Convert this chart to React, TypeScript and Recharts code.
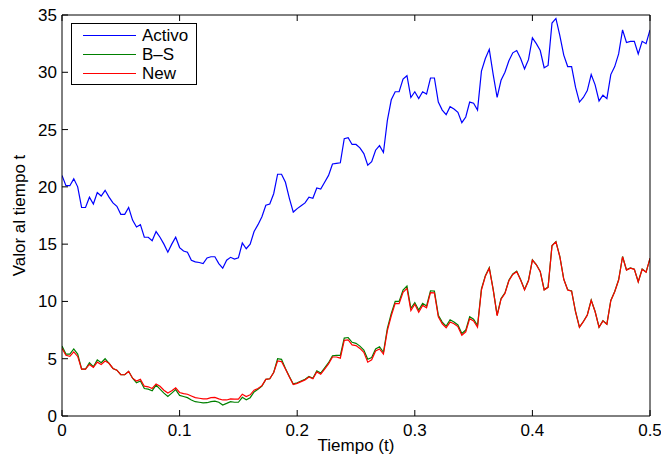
import { LineChart, Line, XAxis, YAxis, Legend } from 'recharts';

// valores, un punto cada dt = 1/300 (t de 0 a 0.5)
const activo = [
  21.0, 20.1, 20.1, 20.7, 20.0, 18.2, 18.2, 19.1, 18.5, 19.5,
  19.2, 19.7, 19.1, 18.6, 18.3, 17.6, 17.6, 18.2, 17.1, 16.5,
  16.7, 15.6, 15.6, 15.3, 16.1, 15.6, 15.0, 14.3, 15.0, 15.6,
  14.7, 14.4, 14.3, 13.6, 13.45, 13.4, 13.3, 13.8, 13.9, 13.9,
  13.3, 12.9, 13.6, 13.85, 13.7, 13.8, 15.1, 14.6, 15.0, 16.1,
  16.7, 17.4, 18.4, 18.5, 19.4, 21.1, 21.1, 20.4, 19.0, 17.8,
  18.1, 18.35, 18.6, 19.1, 19.0, 19.9, 19.8, 20.4, 21.0, 22.0,
  22.05, 22.1, 24.2, 24.3, 23.7, 23.7, 23.4, 22.9, 21.9, 22.2,
  23.2, 23.6, 23.0, 25.8, 27.6, 28.3, 28.3, 29.4, 29.7, 27.8,
  28.3, 27.7, 28.3, 28.1, 29.5, 29.5, 27.4, 26.7, 26.3, 27.0,
  26.8, 26.5, 25.6, 26.1, 27.4, 27.3, 26.7, 30.1, 31.2, 32.0,
  29.8, 27.8, 29.3, 30.0, 31.0, 31.7, 31.9, 31.2, 30.3, 31.1,
  33.0, 32.5, 31.9, 30.4, 30.6, 34.3, 34.7, 33.2, 31.5, 30.5,
  30.5, 28.7, 27.4, 27.8, 28.4, 29.8, 28.9, 27.5, 28.0, 27.7,
  29.8, 30.5, 31.6, 33.7, 32.6, 32.7, 32.7, 31.6, 32.7, 32.5,
  33.7,
];

const bs = [
  6.1, 5.4, 5.4, 5.85, 5.4, 4.1, 4.1, 4.65, 4.3, 4.9,
  4.65, 5.0, 4.6, 4.15, 4.0, 3.6, 3.6, 3.9, 3.3, 2.9,
  3.05, 2.4, 2.35, 2.2, 2.7, 2.35, 2.0, 1.7, 2.0, 2.3,
  1.8, 1.7, 1.6, 1.4, 1.25, 1.2, 1.15, 1.16, 1.25, 1.3,
  1.2, 0.96, 1.1, 1.25, 1.2, 1.2, 1.63, 1.42, 1.6, 2.1,
  2.33, 2.6, 3.2, 3.25, 3.8, 5.0, 4.95, 4.15, 3.45, 2.8,
  2.9, 3.05, 3.2, 3.45, 3.3, 3.95, 3.75, 4.2, 4.65, 5.25,
  5.3, 5.3, 6.8, 6.85, 6.43, 6.34, 6.1, 5.76, 4.95, 5.1,
  5.85, 6.05, 5.56, 7.65, 8.96, 10.0, 10.0, 11.0, 11.34, 9.4,
  9.9, 9.25, 9.83, 9.6, 10.93, 10.9, 8.8, 8.2, 7.85, 8.4,
  8.2, 7.95, 7.2, 7.5, 8.67, 8.45, 7.9, 11.1, 12.25, 12.95,
  11.05, 8.8, 10.25, 10.75, 11.85, 12.4, 12.65, 11.9, 11.05, 11.85,
  13.62, 13.22, 12.62, 11.02, 11.25, 14.88, 15.22, 13.92, 11.95, 11.02,
  10.92, 9.12, 7.76, 8.25, 8.82, 10.12, 9.12, 7.76, 8.32, 8.02,
  10.08, 10.87, 11.89, 13.92, 12.76, 12.92, 12.82, 11.72, 12.82, 12.56,
  13.76,
];

const nuevo = [
  5.9, 5.3, 5.2, 5.6, 5.2, 4.1, 4.1, 4.5, 4.25, 4.7,
  4.5, 4.8, 4.6, 4.15, 4.0, 3.6, 3.6, 3.9, 3.3, 3.05,
  3.2, 2.6, 2.55, 2.4, 2.8, 2.6, 2.25, 2.0, 2.2, 2.45,
  2.05, 1.95, 1.9, 1.75, 1.6, 1.55, 1.5, 1.5, 1.6, 1.63,
  1.5, 1.4, 1.4, 1.5, 1.47, 1.47, 1.9, 1.7, 1.85, 2.25,
  2.4, 2.65, 3.2, 3.25, 3.8, 4.8, 4.75, 4.1, 3.4, 2.75,
  2.85, 3.0, 3.15, 3.4, 3.25, 3.85, 3.65, 4.1, 4.55, 5.15,
  5.15, 5.05, 6.6, 6.65, 6.2, 6.15, 5.9, 5.56, 4.7, 4.9,
  5.67, 5.85, 5.4, 7.45, 8.75, 9.83, 9.8, 10.8, 11.14, 9.2,
  9.75, 9.05, 9.65, 9.45, 10.76, 10.75, 8.65, 8.05, 7.7, 8.2,
  8.05, 7.8, 7.05, 7.35, 8.5, 8.3, 7.75, 11.0, 12.2, 12.9,
  11.0, 8.75, 10.2, 10.7, 11.8, 12.36, 12.6, 11.87, 11.0, 11.8,
  13.6, 13.2, 12.6, 11.0, 11.23, 14.86, 15.2, 13.9, 11.93, 11.0,
  10.9, 9.1, 7.74, 8.23, 8.8, 10.1, 9.1, 7.74, 8.3, 8.0,
  10.06, 10.85, 11.87, 13.9, 12.74, 12.9, 12.8, 11.7, 12.8, 12.54,
  13.76,
];

const xTicks = [0, 0.1, 0.2, 0.3, 0.4, 0.5];
const yTicks = [0, 5, 10, 15, 20, 25, 30, 35];
const PASOS_POR_UNIDAD = 300;

const data = activo.map((v, i) => ({
  t: i / PASOS_POR_UNIDAD,
  activo: v,
  bs: bs[i],
  nuevo: nuevo[i],
}));

const FONT = '"Liberation Sans", Arial, Helvetica, sans-serif';
const tickStyle = { fontSize: 17, fill: '#000' };
const axisStroke = { stroke: '#000', strokeWidth: 1 };

function LegendBox({ payload }: any) {
  return (
    <div
      style={{
        width: 126,
        height: 62,
        boxSizing: 'border-box',
        border: '1px solid #000',
        background: '#fff',
        paddingTop: 2,
        fontFamily: FONT,
        fontSize: 17,
        color: '#000',
      }}
    >
      {(payload || []).map((item: any) => (
        <div key={item.value} style={{ display: 'flex', alignItems: 'center', height: 19 }}>
          <span
            style={{
              display: 'inline-block',
              marginLeft: 11,
              width: 53,
              height: 1,
              background: item.color,
            }}
          />
          <span style={{ marginLeft: 6, lineHeight: '19px' }}>{item.value}</span>
        </div>
      ))}
    </div>
  );
}

export default function App() {
  return (
    <div
      style={{
        position: 'absolute',
        left: 0,
        top: 0,
        width: 661,
        height: 459,
        background: '#fff',
        fontFamily: FONT,
      }}
    >
      <LineChart
        width={661}
        height={459}
        data={data}
        margin={{ top: 14, right: 10, bottom: 0, left: 0 }}
        style={{ fontFamily: FONT }}
      >
        <XAxis
          dataKey="t"
          type="number"
          domain={[0, 0.5]}
          ticks={xTicks}
          tickFormatter={(v) => String(v)}
          height={43}
          tickSize={-6}
          tickMargin={14}
          tick={tickStyle}
          axisLine={axisStroke}
          tickLine={axisStroke}
          allowDataOverflow
          label={{ value: 'Tiempo (t)', position: 'insideBottom', offset: 8, fill: '#000', fontSize: 17 }}
        />
        <XAxis
          xAxisId="top"
          orientation="top"
          dataKey="t"
          type="number"
          domain={[0, 0.5]}
          ticks={xTicks}
          height={1}
          tickSize={-6}
          tickFormatter={() => ''}
          tick={tickStyle}
          axisLine={axisStroke}
          tickLine={axisStroke}
        />
        <YAxis
          type="number"
          domain={[0, 35]}
          ticks={yTicks}
          width={62}
          tickSize={-6}
          tickMargin={11}
          tick={tickStyle}
          axisLine={axisStroke}
          tickLine={axisStroke}
          label={{
            value: 'Valor al tiempo t',
            angle: -90,
            position: 'insideLeft',
            offset: 19,
            fill: '#000',
            fontSize: 17,
            style: { textAnchor: 'middle' },
          }}
        />
        <YAxis
          yAxisId="right"
          orientation="right"
          type="number"
          domain={[0, 35]}
          ticks={yTicks}
          width={1}
          tickSize={-6}
          tickFormatter={() => ''}
          tick={tickStyle}
          axisLine={axisStroke}
          tickLine={axisStroke}
        />
        <Legend
          layout="vertical"
          align="center"
          verticalAlign="middle"
          content={<LegendBox />}
          wrapperStyle={{ left: 71, top: 23, width: 126, height: 62 }}
        />
        <Line
          type="linear"
          dataKey="activo"
          name="Activo"
          stroke="#0000ff"
          strokeWidth={1.2}
          dot={false}
          isAnimationActive={false}
        />
        <Line
          type="linear"
          dataKey="bs"
          name="B–S"
          stroke="#008000"
          strokeWidth={1.2}
          dot={false}
          isAnimationActive={false}
        />
        <Line
          type="linear"
          dataKey="nuevo"
          name="New"
          stroke="#ff0000"
          strokeWidth={1.2}
          dot={false}
          isAnimationActive={false}
        />
      </LineChart>
    </div>
  );
}
